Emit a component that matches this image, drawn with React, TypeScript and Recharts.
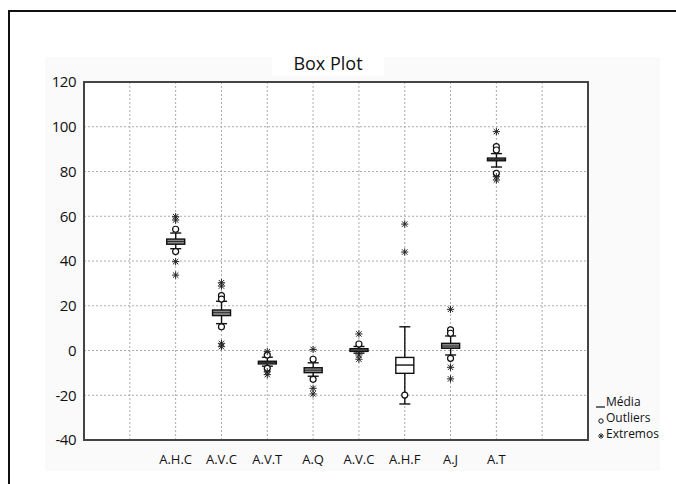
import {
  ComposedChart,
  Bar,
  Scatter,
  XAxis,
  YAxis,
  CartesianGrid,
  ReferenceArea,
} from "recharts";

const categories = ["A.H.C", "A.V.C", "A.V.T", "A.Q", "A.V.C", "A.H.F", "A.J", "A.T"];
const q1 = [47.5, 15.6, -6.0, -9.9, -0.4, -10.2, 1.0, 84.8];
const median = [48.7, 16.9, -5.4, -8.8, 0.2, -6.5, 2.0, 85.4];
const q3 = [49.8, 18.1, -4.8, -7.7, 0.8, -3.1, 3.2, 86.0];
const whiskerLow = [45.5, 12.0, -7.0, -11.5, -1.2, -23.9, -2.0, 82.0];
const whiskerHigh = [52.5, 22.0, -3.0, -5.5, 1.8, 10.6, 6.5, 88.0];
const outliers = [
  [54.2, 44.2],
  [24.5, 23.0, 10.6],
  [-2.0, -8.0],
  [-3.9, -12.9],
  [2.9],
  [-19.9],
  [9.2, 7.7, -3.5],
  [91.1, 89.6, 79.2],
];
const extremes = [
  [59.8, 58.3, 39.7, 33.7],
  [30.3, 28.8, 3.2, 1.7],
  [-0.5, -9.5, -10.8],
  [0.5, -16.9, -19.4],
  [7.4, -2.0, -3.9],
  [56.5, 44.0],
  [18.4, -7.5, -12.7],
  [97.8, 77.7, 76.2],
];
const yTicks = [-40, -20, 0, 20, 40, 60, 80, 100, 120];
const xTicks = [0, 1, 2, 3, 4, 5, 6, 7, 8, 9, 10, 11];
const firstSlot = 2;
const legendLabels = ["Média", "Outliers", "Extremos"];

const FONT = '"Open Sans", "DejaVu Sans", sans-serif';

const boxRows = categories.map((name, i) => ({
  x: i + firstSlot,
  name,
  box: [q1[i], q3[i]],
  q1: q1[i],
  q3: q3[i],
  median: median[i],
  lo: whiskerLow[i],
  hi: whiskerHigh[i],
}));

const outlierPoints = categories.flatMap((_, i) =>
  outliers[i].map((v) => ({ x: i + firstSlot, y: v }))
);
const extremePoints = categories.flatMap((_, i) =>
  extremes[i].map((v) => ({ x: i + firstSlot, y: v }))
);

function BoxShape(props: any) {
  const { x, y, width, height, payload } = props;
  if (!payload) return null;
  const span = payload.q3 - payload.q1;
  const ppu = span > 0 ? height / span : 0;
  const cx = x + width / 2;
  const top = y;
  const bottom = y + height;
  const medY = top + (payload.q3 - payload.median) * ppu;
  const hiY = top - (payload.hi - payload.q3) * ppu;
  const loY = bottom + (payload.q1 - payload.lo) * ppu;
  const cap = 5.5;
  // thin boxes read as a solid grey bar in the reference
  const fill = height < 10 ? "#8a8a8a" : "#fff";
  return (
    <g stroke="#111" strokeWidth={1.4} fill="none">
      <line x1={cx} y1={hiY} x2={cx} y2={top} />
      <line x1={cx} y1={bottom} x2={cx} y2={loY} />
      <line x1={cx - cap} y1={hiY} x2={cx + cap} y2={hiY} />
      <line x1={cx - cap} y1={loY} x2={cx + cap} y2={loY} />
      <rect x={x} y={top} width={width} height={height} fill={fill} />
      <line x1={x} y1={medY} x2={x + width} y2={medY} strokeWidth={height < 10 ? 0.8 : 1.4} />
    </g>
  );
}

function CircleShape(props: any) {
  return <circle cx={props.cx} cy={props.cy} r={3} fill="#fff" stroke="#111" strokeWidth={1.2} />;
}

function StarShape(props: any) {
  const { cx, cy } = props;
  const r = 3.6;
  return (
    <g stroke="#222" strokeWidth={1}>
      <line x1={cx - r} y1={cy} x2={cx + r} y2={cy} />
      <line x1={cx} y1={cy - r} x2={cx} y2={cy + r} />
      <line x1={cx - r * 0.75} y1={cy - r * 0.75} x2={cx + r * 0.75} y2={cy + r * 0.75} />
      <line x1={cx - r * 0.75} y1={cy + r * 0.75} x2={cx + r * 0.75} y2={cy - r * 0.75} />
    </g>
  );
}

function XTick(props: any) {
  const { x, y, payload } = props;
  const idx = payload.value - firstSlot;
  const label = idx >= 0 && idx < categories.length ? categories[idx] : "";
  return (
    <text x={x} y={y} dy="0.71em" textAnchor="middle" fontSize={13} fill="#111" fontFamily={FONT}>
      {label}
    </text>
  );
}

function YTick(props: any) {
  const { x, y, payload } = props;
  return (
    <text x={x} y={y} dy="0.35em" textAnchor="end" fontSize={15} fill="#111" fontFamily={FONT} letterSpacing={-0.5}>
      {payload.value}
    </text>
  );
}

export default function App() {
  return (
    <div style={{ position: "relative", width: 676, height: 484, overflow: "hidden", background: "#fff" }}>
      <style>{`body{margin:0}`}</style>
      <div style={{ position: "absolute", left: 45, top: 57, width: 615, height: 414, background: "#fafafa" }} />
      <div style={{ position: "absolute", left: 8, top: 10, width: 700, height: 500, borderLeft: "2px solid #111", borderTop: "2px solid #111" }} />
      <div
        style={{
          position: "absolute",
          left: 272,
          top: 51,
          width: 112,
          height: 25,
          background: "#fff",
          textAlign: "center",
          fontFamily: FONT,
          fontSize: 18,
          lineHeight: "25px",
          color: "#111",
        }}
      >
        Box Plot
      </div>
      <div style={{ position: "absolute", left: 0, top: 0 }}>
        <ComposedChart
          width={676}
          height={484}
          data={boxRows}
          margin={{ top: 82, right: 88, bottom: 14, left: 44 }}
        >
          <CartesianGrid stroke="#ababab" strokeWidth={1} strokeDasharray="2 2" fill="#fff" />
          <XAxis
            dataKey="x"
            type="number"
            domain={[0, 11]}
            ticks={xTicks}
            interval={0}
            axisLine={false}
            tickLine={false}
            tickSize={0}
            tickMargin={15}
            height={30}
            tick={<XTick />}
          />
          <YAxis
            type="number"
            domain={[-40, 120]}
            ticks={yTicks}
            interval={0}
            allowDataOverflow
            axisLine={false}
            tickLine={false}
            tickSize={0}
            tickMargin={8}
            width={40}
            tick={<YTick />}
          />
          <ReferenceArea
            x1={0}
            x2={11}
            y1={-40}
            y2={120}
            fill="none"
            fillOpacity={0}
            stroke="#444"
            strokeWidth={2}
            ifOverflow="visible"
          />
          <Bar dataKey="box" barSize={18} shape={<BoxShape />} isAnimationActive={false} />
          <Scatter data={outlierPoints} dataKey="y" shape={<CircleShape />} isAnimationActive={false} />
          <Scatter data={extremePoints} dataKey="y" shape={<StarShape />} isAnimationActive={false} />
        </ComposedChart>
      </div>
      <div style={{ position: "absolute", left: 596, top: 394, fontFamily: FONT, fontSize: 12, color: "#111", lineHeight: "16px" }}>
        {legendLabels.map((label, i) => (
          <div key={label} style={{ display: "flex", alignItems: "center", height: 16 }}>
            <svg width={10} height={16}>
              {i === 0 && <line x1={0} y1={13} x2={9} y2={13} stroke="#111" strokeWidth={1.2} />}
              {i === 1 && <circle cx={5} cy={11} r={2.2} fill="#fff" stroke="#111" strokeWidth={1} />}
              {i === 2 && (
                <g stroke="#222" strokeWidth={0.9}>
                  <line x1={2} y1={10} x2={8} y2={10} />
                  <line x1={5} y1={7} x2={5} y2={13} />
                  <line x1={3} y1={8} x2={7} y2={12} />
                  <line x1={3} y1={12} x2={7} y2={8} />
                </g>
              )}
            </svg>
            <span>{label}</span>
          </div>
        ))}
      </div>
    </div>
  );
}
